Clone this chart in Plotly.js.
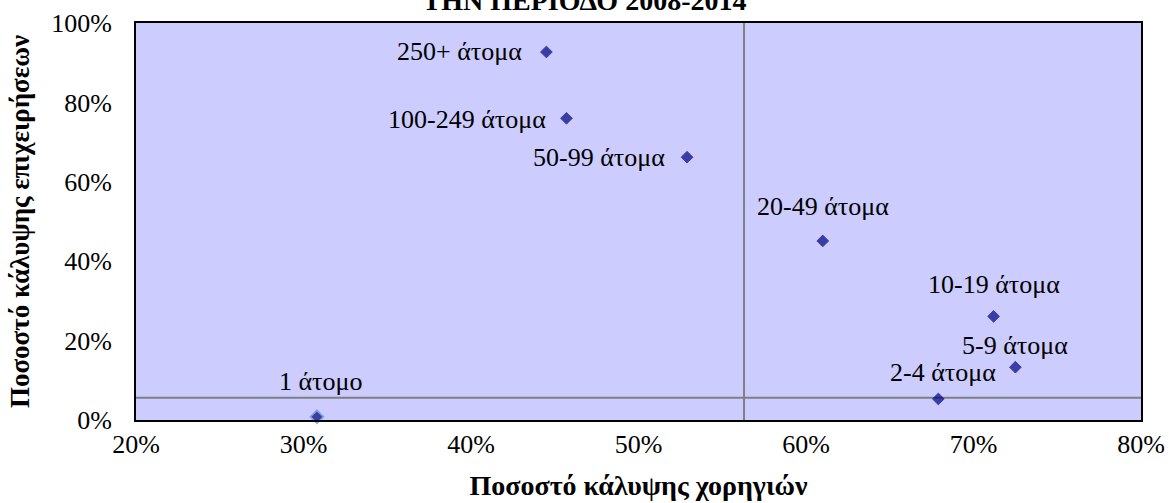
<!DOCTYPE html>
<html>
<head>
<meta charset="utf-8">
<script src="https://cdn.plot.ly/plotly-3.0.1.min.js"></script>
<style>html,body{margin:0;padding:0;background:#fff;}#chart{width:1169px;height:503px;}</style>
</head>
<body>
<div id="chart"></div>
<script>
// Data (percent values)
const categories = ['1 άτομο', '2-4 άτομα', '5-9 άτομα', '10-19 άτομα', '20-49 άτομα', '50-99 άτομα', '100-249 άτομα', '250+ άτομα'];
const sponsorshipCoverage = [30.8, 67.9, 72.5, 71.2, 61.0, 52.9, 45.7, 44.5];   // x: Ποσοστό κάλυψης χορηγιών
const businessCoverage   = [0.8, 5.3, 13.3, 26.1, 45.1, 66.2, 76.0, 92.7];      // y: Ποσοστό κάλυψης επιχειρήσεων
const averageLines = {x: 56.3, y: 5.6};
const xTicks = [20, 30, 40, 50, 60, 70, 80];
const yTicks = [0, 20, 40, 60, 80, 100];

// Label placement (style only)
const labelPlacement = [
  {xanchor: 'center', dx: 4,   dy: 35},
  {xanchor: 'center', dx: 5,   dy: 26},
  {xanchor: 'center', dx: 0,   dy: 22},
  {xanchor: 'center', dx: 0,   dy: 32},
  {xanchor: 'center', dx: 0,   dy: 34},
  {xanchor: 'right',  dx: -20, dy: 0},
  {xanchor: 'right',  dx: -18, dy: -1},
  {xanchor: 'right',  dx: -22, dy: 0}
];

const FONT = "'Liberation Serif', 'Times New Roman', serif";

const trace = {
  type: 'scatter',
  mode: 'markers',
  x: sponsorshipCoverage,
  y: businessCoverage,
  text: categories,
  hoverinfo: 'text+x+y',
  marker: {
    symbol: 'diamond',
    size: categories.map((c, i) => i === 0 ? 10 : 9),
    color: '#000080',
    line: {
      color: categories.map((c, i) => i === 0 ? '#5B8FC9' : '#000080'),
      width: categories.map((c, i) => i === 0 ? 1.6 : 1)
    }
  },
  showlegend: false,
  cliponaxis: false
};

const annotations = categories.map((c, i) => ({
  x: sponsorshipCoverage[i],
  y: businessCoverage[i],
  xref: 'x', yref: 'y',
  text: c,
  showarrow: false,
  xanchor: labelPlacement[i].xanchor,
  yanchor: 'middle',
  xshift: labelPlacement[i].dx,
  yshift: labelPlacement[i].dy,
  font: {family: FONT, size: 26, color: '#000'}
}));

const layout = {
  width: 1169,
  height: 503,
  margin: {l: 136, r: 28, t: 23, b: 83},
  paper_bgcolor: '#ffffff',
  plot_bgcolor: '#CCCCFF',
  font: {family: FONT, color: '#000'},
  title: {
    text: '<b>ΤΗΝ ΠΕΡΙΟΔΟ 2008-2014</b>',
    font: {family: FONT, size: 28, color: '#000'},
    x: 0.5, xanchor: 'center',
    yref: 'container', y: 1.0, yanchor: 'middle'
  },
  xaxis: {
    range: [20, 80],
    tickvals: xTicks,
    ticktext: xTicks.map(v => v + '%'),
    showgrid: false,
    zeroline: false,
    showline: true, linecolor: '#000', linewidth: 2, mirror: true,
    ticks: '',
    ticklabelstandoff: 0,
    tickfont: {family: FONT, size: 26, color: '#000'},
    title: {text: '<b>Ποσοστό κάλυψης χορηγιών</b>', font: {family: FONT, size: 28, color: '#000'}, standoff: 17},
    fixedrange: true
  },
  yaxis: {
    range: [0, 100],
    tickvals: yTicks,
    ticktext: yTicks.map(v => v + '%'),
    showgrid: false,
    zeroline: false,
    showline: true, linecolor: '#000', linewidth: 2, mirror: true,
    ticks: '',
    ticklabelstandoff: 17,
    tickfont: {family: FONT, size: 26, color: '#000'},
    title: {text: '<b>Ποσοστό κάλυψης επιχειρήσεων</b>', font: {family: FONT, size: 27, color: '#000'}, standoff: 14},
    fixedrange: true
  },
  shapes: [
    {type: 'line', xref: 'x', yref: 'paper', x0: averageLines.x, x1: averageLines.x, y0: 0, y1: 1, line: {color: '#808080', width: 2}, layer: 'below'},
    {type: 'line', xref: 'paper', yref: 'y', x0: 0, x1: 1, y0: averageLines.y, y1: averageLines.y, line: {color: '#808080', width: 2}, layer: 'below'}
  ],
  annotations: annotations
};

Plotly.newPlot('chart', [trace], layout, {displayModeBar: false, staticPlot: true});
</script>
</body>
</html>
